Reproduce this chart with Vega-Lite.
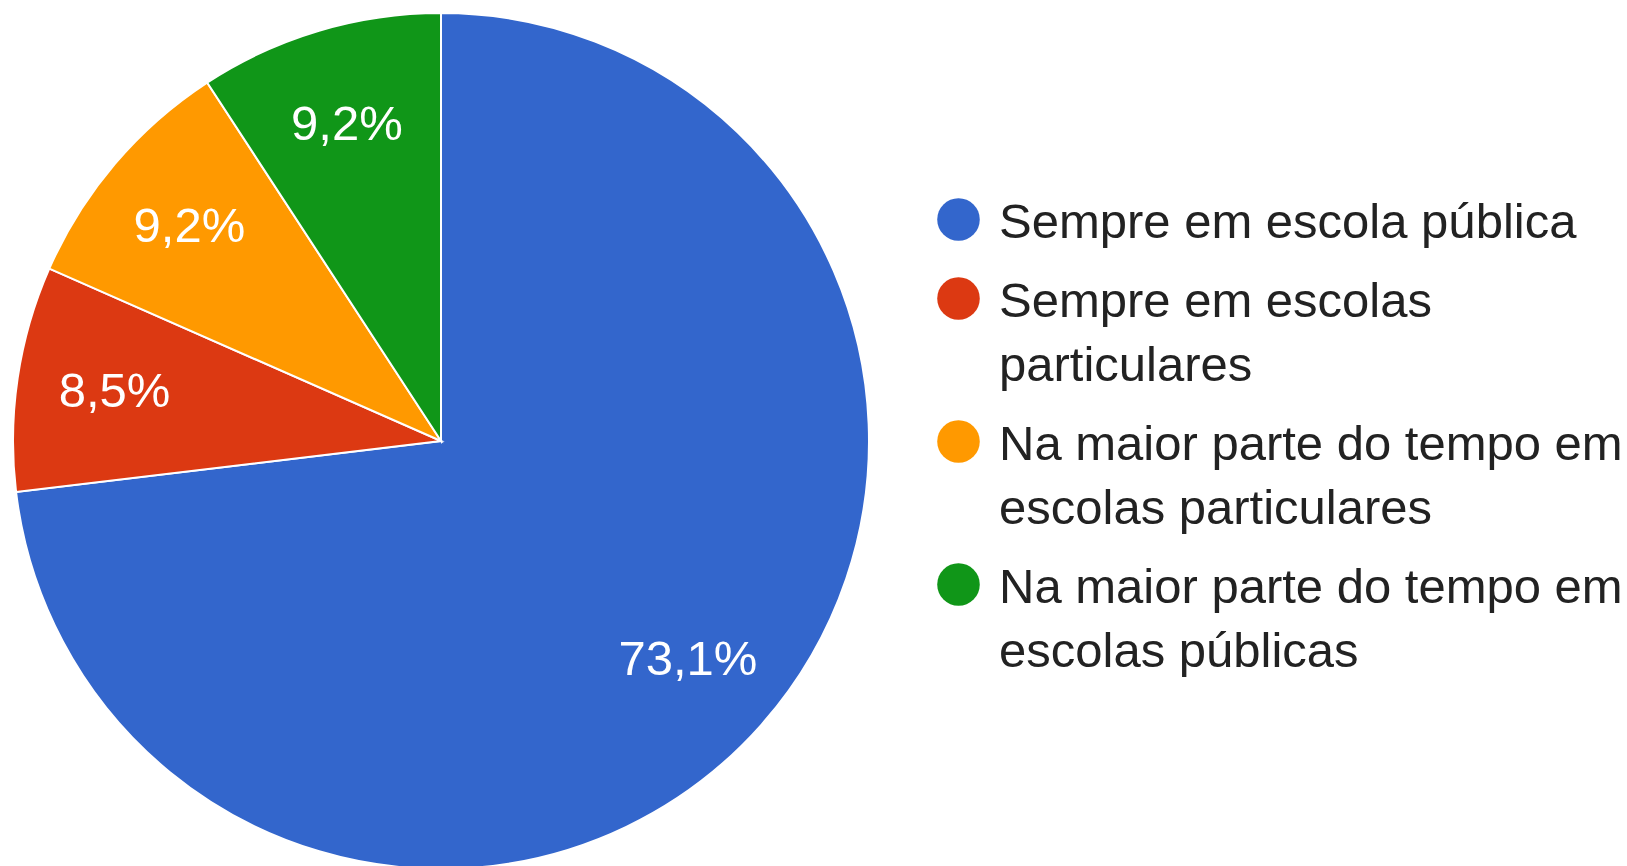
{
  "$schema": "https://vega.github.io/schema/vega-lite/v6.json",
  "width": 882,
  "height": 850,
  "autosize": {"type": "none"},
  "padding": {"top": 16, "left": 0, "right": 745, "bottom": 0},
  "background": "white",
  "config": {
    "view": {"stroke": null},
    "locale": {"number": {"decimal": ",", "thousands": ".", "grouping": [3], "currency": ["R$", ""]}},
    "font": "Liberation Sans, Arial, sans-serif",
    "style": {"guide-label": {"dy": -21, "lineHeight": 64}}
  },
  "data": {
    "values": [
      {"categoria": "Sempre em escola pública", "pct": 0.731, "ordem": 1},
      {"categoria": "Sempre em escolas particulares", "pct": 0.085, "ordem": 2},
      {"categoria": "Na maior parte do tempo em escolas particulares", "pct": 0.092, "ordem": 3},
      {"categoria": "Na maior parte do tempo em escolas públicas", "pct": 0.092, "ordem": 4}
    ]
  },
  "encoding": {
    "theta": {"field": "pct", "type": "quantitative", "stack": true},
    "order": {"field": "ordem", "type": "quantitative", "sort": "ascending"}
  },
  "layer": [
    {
      "mark": {"type": "arc", "radius": 428, "stroke": "white", "strokeWidth": 2},
      "encoding": {
        "color": {
          "field": "categoria",
          "type": "nominal",
          "sort": ["Sempre em escola pública", "Sempre em escolas particulares", "Na maior parte do tempo em escolas particulares", "Na maior parte do tempo em escolas públicas"],
          "scale": {
            "domain": ["Sempre em escola pública", "Sempre em escolas particulares", "Na maior parte do tempo em escolas particulares", "Na maior parte do tempo em escolas públicas"],
            "range": ["#3366CC", "#DC3912", "#FF9900", "#109618"]
          },
          "legend": {
            "title": null,
            "orient": "none",
            "legendX": 934,
            "legendY": 179,
            "padding": 0,
            "symbolType": "circle",
            "symbolSize": 1810,
            "symbolStrokeWidth": 0,
            "rowPadding": 26,
            "labelFont": "Liberation Sans, Arial, sans-serif",
            "labelFontSize": 49,
            "labelColor": "#222222",
            "labelOffset": 16,
            "labelLimit": 800,
            "labelBaseline": "top",
            "labelExpr": "datum.label == 'Sempre em escolas particulares' ? ['Sempre em escolas', 'particulares'] : datum.label == 'Na maior parte do tempo em escolas particulares' ? ['Na maior parte do tempo em', 'escolas particulares'] : datum.label == 'Na maior parte do tempo em escolas públicas' ? ['Na maior parte do tempo em', 'escolas públicas'] : datum.label"
          }
        }
      }
    },
    {
      "mark": {"type": "text", "radius": 330, "fill": "white", "fontSize": 49, "font": "Liberation Sans, Arial, sans-serif", "align": "center", "baseline": "middle"},
      "encoding": {
        "text": {"field": "pct", "type": "quantitative", "format": ".1%"}
      }
    }
  ]
}
